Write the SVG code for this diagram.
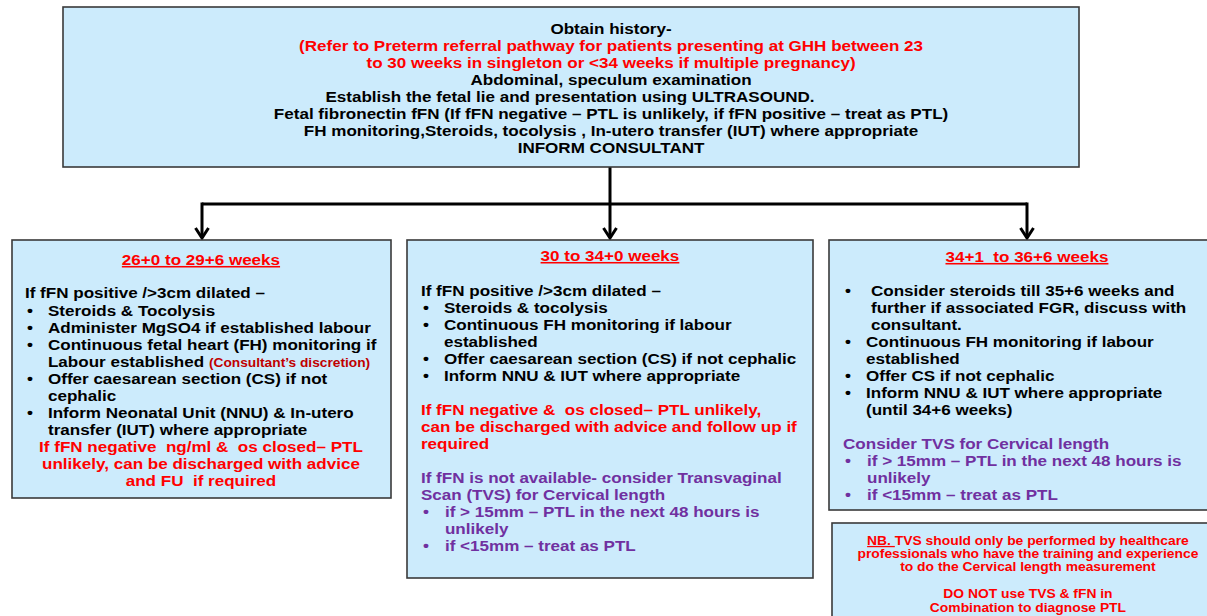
<svg xmlns="http://www.w3.org/2000/svg" width="1207" height="616" viewBox="0 0 1207 616">
<style>
.box{fill:#CCEBFC;stroke:#3a3a3a;stroke-width:1.6}
text{font-family:"Liberation Sans",Arial,sans-serif;font-weight:bold;font-size:15.5px;fill:#000;white-space:pre}
.c{text-anchor:middle}
.r{fill:#FF0000}
.p{fill:#7030A0}
.t{fill:#FF0000;text-decoration:underline}
.s{font-size:12.5px;fill:#C00000}
.nb{font-size:12.6px;fill:#FF0000;text-anchor:middle}
.conn{fill:none;stroke:#000;stroke-width:3}
</style>
<defs>
<marker id="arr" viewBox="0 0 14 16" refX="12" refY="8" markerWidth="14" markerHeight="16" markerUnits="userSpaceOnUse" orient="auto">
<path d="M2,1.5 L12,8 L2,14.5" fill="none" stroke="#000" stroke-width="3"/>
</marker>
</defs>
<rect width="1207" height="616" fill="#fff"/>

<g id="connectors">
<path class="conn" d="M202,204 H1027"/>
<path class="conn" d="M610,167 V238" marker-end="url(#arr)"/>
<path class="conn" d="M202,202.5 V238" marker-end="url(#arr)"/>
<path class="conn" d="M1027,202.5 V238" marker-end="url(#arr)"/>
</g>

<g id="top">
<rect class="box" x="63" y="7" width="1016" height="160"/>
<g transform="scale(1.1,1)">
<text class="c" x="555.5" y="34">Obtain history-</text>
<text class="c r" x="555.5" y="51">(Refer to Preterm referral pathway for patients presenting at GHH between 23</text>
<text class="c r" x="555.5" y="68">to 30 weeks in singleton or &lt;34 weeks if multiple pregnancy)</text>
<text class="c" x="555.5" y="85">Abdominal, speculum examination</text>
<text class="c" x="518.2" y="102">Establish the fetal lie and presentation using ULTRASOUND.</text>
<text class="c" x="555.5" y="119">Fetal fibronectin fFN (If fFN negative – PTL is unlikely, if fFN positive – treat as PTL)</text>
<text class="c" x="555.5" y="136">FH monitoring,Steroids, tocolysis , In-utero transfer (IUT) where appropriate</text>
<text class="c" x="555.5" y="153">INFORM CONSULTANT</text>
</g>
</g>

<g id="left">
<rect class="box" x="12" y="240" width="379" height="258"/>
<g transform="scale(1.1,1)">
<text class="c t" x="182.7" y="265">26+0 to 29+6 weeks</text>
<text x="22.7" y="298">If fFN positive /&gt;3cm dilated –</text>
<text x="24.5" y="316">•</text><text x="43.6" y="316">Steroids &amp; Tocolysis</text>
<text x="24.5" y="333">•</text><text x="43.6" y="333">Administer MgSO4 if established labour</text>
<text x="24.5" y="350">•</text><text x="43.6" y="350">Continuous fetal heart (FH) monitoring if</text>
<text x="43.6" y="367">Labour established <tspan class="s">(Consultant’s discretion)</tspan></text>
<text x="24.5" y="384">•</text><text x="43.6" y="384">Offer caesarean section (CS) if not</text>
<text x="43.6" y="401">cephalic</text>
<text x="24.5" y="418">•</text><text x="43.6" y="418">Inform Neonatal Unit (NNU) &amp; In-utero</text>
<text x="43.6" y="435">transfer (IUT) where appropriate</text>
<text class="c r" x="182.7" y="452">If fFN negative  ng/ml &amp;  os closed– PTL</text>
<text class="c r" x="182.7" y="469">unlikely, can be discharged with advice</text>
<text class="c r" x="182.7" y="486">and FU  if required</text>
</g>
</g>

<g id="middle">
<rect class="box" x="407" y="240" width="406" height="338"/>
<g transform="scale(1.1,1)">
<text class="c t" x="554.5" y="261">30 to 34+0 weeks</text>
<text x="382.7" y="296">If fFN positive /&gt;3cm dilated –</text>
<text x="384.5" y="313">•</text><text x="403.6" y="313">Steroids &amp; tocolysis</text>
<text x="384.5" y="330">•</text><text x="403.6" y="330">Continuous FH monitoring if labour</text>
<text x="403.6" y="347">established</text>
<text x="384.5" y="364">•</text><text x="403.6" y="364">Offer caesarean section (CS) if not cephalic</text>
<text x="384.5" y="381">•</text><text x="403.6" y="381">Inform NNU &amp; IUT where appropriate</text>
<text class="r" x="382.7" y="415">If fFN negative &amp;  os closed– PTL unlikely,</text>
<text class="r" x="382.7" y="432">can be discharged with advice and follow up if</text>
<text class="r" x="382.7" y="449">required</text>
<text class="p" x="382.7" y="483">If fFN is not available- consider Transvaginal</text>
<text class="p" x="382.7" y="500">Scan (TVS) for Cervical length</text>
<text class="p" x="384.5" y="517">•</text><text class="p" x="404.5" y="517">if &gt; 15mm – PTL in the next 48 hours is</text>
<text class="p" x="404.5" y="534">unlikely</text>
<text class="p" x="384.5" y="551">•</text><text class="p" x="404.5" y="551">if &lt;15mm – treat as PTL</text>
</g>
</g>

<g id="right">
<rect class="box" x="829" y="240" width="380" height="270"/>
<g transform="scale(1.1,1)">
<text class="c t" x="933.6" y="262">34+1  to 36+6 weeks</text>
<text x="768.2" y="296">•</text><text x="791.8" y="296">Consider steroids till 35+6 weeks and</text>
<text x="791.8" y="313">further if associated FGR, discuss with</text>
<text x="791.8" y="330">consultant.</text>
<text x="768.2" y="347">•</text><text x="787.3" y="347">Continuous FH monitoring if labour</text>
<text x="787.3" y="364">established</text>
<text x="768.2" y="381">•</text><text x="787.3" y="381">Offer CS if not cephalic</text>
<text x="768.2" y="398">•</text><text x="787.3" y="398">Inform NNU &amp; IUT where appropriate</text>
<text x="787.3" y="415">(until 34+6 weeks)</text>
<text class="p" x="766.4" y="449">Consider TVS for Cervical length</text>
<text class="p" x="768.2" y="466">•</text><text class="p" x="788.2" y="466">if &gt; 15mm – PTL in the next 48 hours is</text>
<text class="p" x="788.2" y="483">unlikely</text>
<text class="p" x="768.2" y="500">•</text><text class="p" x="788.2" y="500">if &lt;15mm – treat as PTL</text>
</g>
</g>

<g id="note">
<rect class="box" x="832" y="523" width="380" height="100"/>
<g transform="scale(1.1,1)">
<text class="nb" x="934.5" y="545"><tspan text-decoration="underline">NB. </tspan>TVS should only be performed by healthcare</text>
<text class="nb" x="934.5" y="558">professionals who have the training and experience</text>
<text class="nb" x="934.5" y="571.5">to do the Cervical length measurement</text>
<text class="nb" x="934.5" y="598">DO NOT use TVS &amp; fFN in</text>
<text class="nb" x="934.5" y="612">Combination to diagnose PTL</text>
</g>
</g>
</svg>
